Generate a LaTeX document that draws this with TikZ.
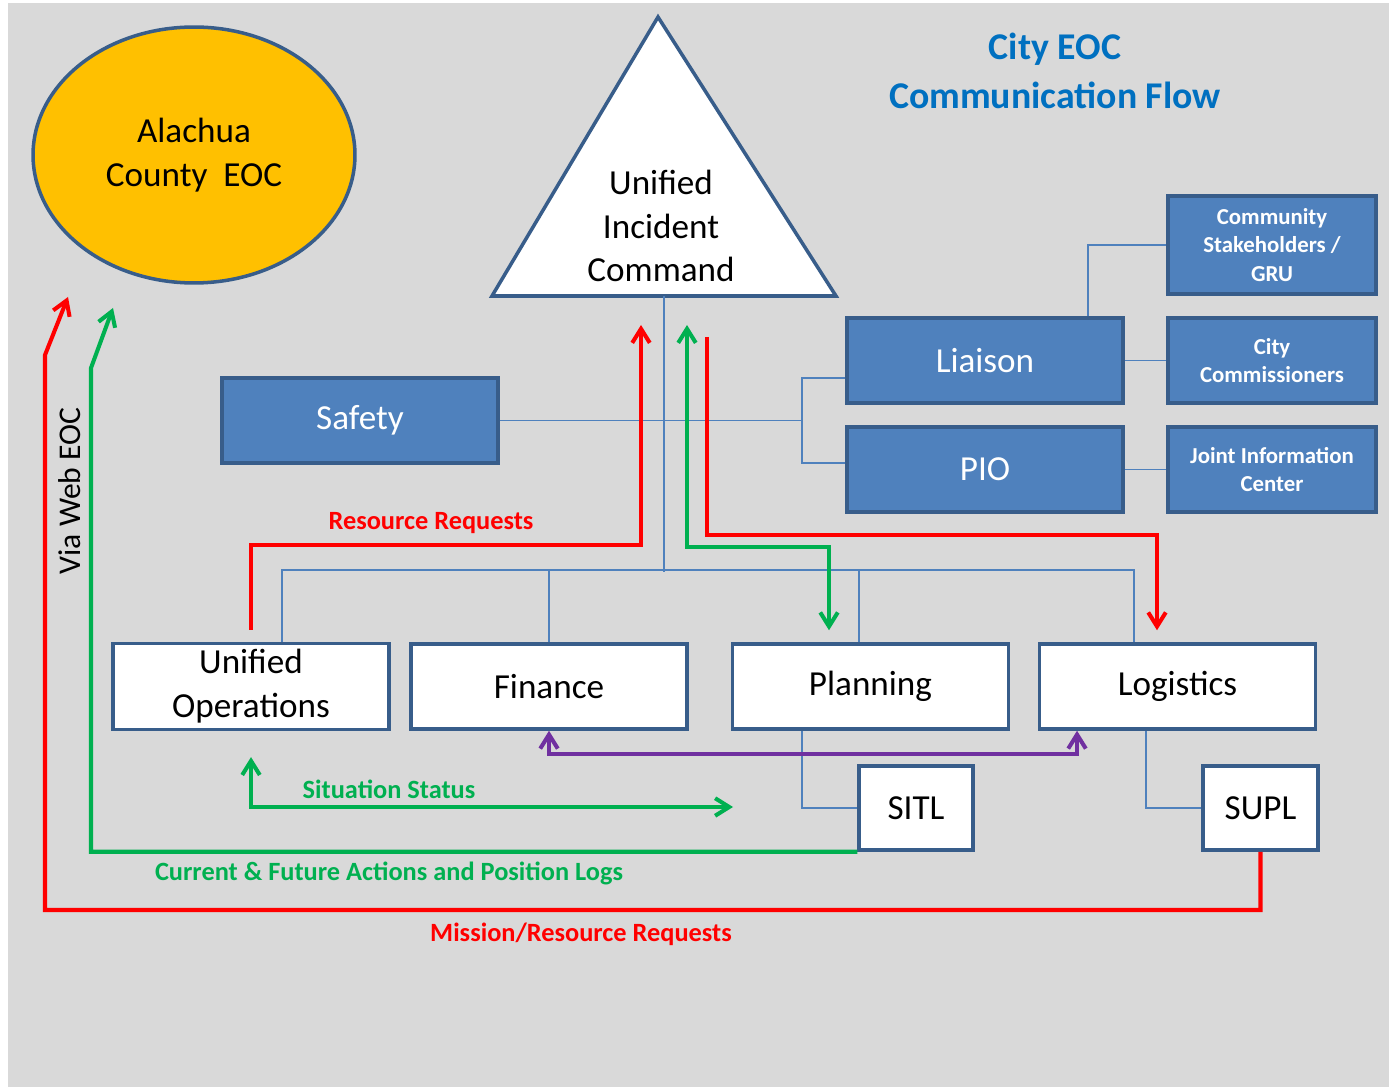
\documentclass[tikz,border=0pt]{standalone}
\usepackage{fontspec}
\setmainfont{Carlito}
\usetikzlibrary{arrows.meta,shapes.geometric}

\definecolor{bggray}{HTML}{D9D9D9}
\definecolor{boxblue}{HTML}{4F81BD}
\definecolor{boxedge}{HTML}{385D8A}
\definecolor{eocyellow}{HTML}{FFC000}
\definecolor{titleblue}{HTML}{0070C0}
\definecolor{flowgreen}{HTML}{00B050}
\definecolor{flowred}{HTML}{FF0000}
\definecolor{flowpurple}{HTML}{7030A0}

\begin{document}
\begin{tikzpicture}[x=0.02cm,y=-0.02cm]
\tikzstyle{every node} = [font = \fontsize{20}{25}\selectfont]
\tikzstyle{bluebox} = [draw=boxedge,line width=2pt,fill=boxblue,text=white,minimum width=5.52cm,minimum height=1.7cm]
\tikzstyle{smallbox} = [draw=boxedge,line width=2pt,fill=boxblue,text=white,minimum width=4.16cm,minimum height=1.7cm,align=center,font=\fontsize{13}{16}\selectfont\bfseries]
\tikzstyle{whitebox} = [draw=boxedge,line width=2pt,fill=white,minimum width=5.52cm,minimum height=1.7cm,align=center]
\tikzstyle{orgline} = [boxblue,line width=0.75pt]
\tikzstyle{flow} = [line width=2.3pt,arrows={-Straight Barb[length=8pt,width=10pt]}]
\tikzstyle{twoway} = [arrows={Straight Barb[length=8pt,width=10pt]-Straight Barb[length=8pt,width=10pt]}]
\tikzstyle{flowlabel} = [font=\fontsize{15}{18}\selectfont\bfseries]

\useasboundingbox (0,0) rectangle (1389,1087);
\fill[bggray] (8,3) rectangle (1389,1087);

% titolo
\node[text=titleblue,align=center,font=\fontsize{21.5}{27.5}\selectfont\bfseries] (title) at (1055,71) {City EOC\\Communication Flow};

% contea
\node[ellipse,draw=boxedge,line width=2pt,fill=eocyellow,minimum width=6.44cm,minimum height=5.12cm,align=center] (county) at (194,155) {Alachua\\County~ EOC};

% comando unificato
\filldraw[draw=boxedge,line width=2pt,fill=white,line join=miter] (658,17) -- (836,296) -- (492,296) -- cycle;
\coordinate (uic) at (664,296);
\node[align=center] (uictext) at (661,226) {Unified\\Incident\\Command};

% staff
\node[bluebox] (safety) at (360,420.5) {Safety};
\node[bluebox] (liaison) at (985,360.5) {Liaison};
\node[bluebox] (pio) at (985,469.5) {PIO};
\node[smallbox,minimum height=1.96cm] (comm) at (1272,245) {Community\\Stakeholders /\\GRU};
\node[smallbox] (citycom) at (1272,360.5) {City\\Commissioners};
\node[smallbox] (jic) at (1272,469.5) {Joint Information\\Center};

% sezioni
\node[whitebox] (uo) at (251,686.5) {Unified\\Operations};
\node[whitebox] (fin) at (549,686.5) {Finance};
\node[whitebox] (plan) at (870.5,686.5) {Planning};
\node[whitebox] (log) at (1177.5,686.5) {Logistics};
\node[whitebox,minimum width=2.28cm,minimum height=1.68cm] (sitl) at (916,808) {SITL};
\node[whitebox,minimum width=2.3cm,minimum height=1.68cm] (supl) at (1260.5,808) {SUPL};

% linee organigramma
\draw[orgline] (uic) -- (664,572);
\draw[orgline] ([xshift=.62cm]uo.north) -- ++(0,-72) -| ([xshift=-.87cm]log.north);
\draw[orgline] (fin.north) -- ++(0,-72);
\draw[orgline] ([xshift=-.23cm]plan.north) -- ++(0,-72);
\draw[orgline] (safety.east) -- (802,420.5);
\draw[orgline] ([yshift=-.35cm]liaison.west) -| (802,420.5) |- ([yshift=.13cm]pio.west);
\draw[orgline] ([xshift=2.06cm]liaison.north) |- (comm.west);
\draw[orgline] (liaison.east) -- (citycom.west);
\draw[orgline] (pio.east) -- (jic.west);
\draw[orgline] ([xshift=-1.37cm]plan.south) |- (sitl.west);
\draw[orgline] ([xshift=-.63cm]log.south) |- (supl.west);

% punte libere
\coordinate (rrtip) at (641,325);
\coordinate (gtop) at (687,325);
\coordinate (rtop) at (707,337);
\coordinate (sstip) at (733,807);
\coordinate (eocg) at (113,308);
\coordinate (eocr) at (68,297);

% flussi
\draw[flow,flowred] ([yshift=.24cm]uo.north) -- ++(0,-85) -| (rrtip);
\draw[flow,flowgreen,twoway] (gtop) -- ++(0,222) -| ([xshift=-.83cm,yshift=.24cm]plan.north);
\draw[flow,flowred] (rtop) -- ++(0,198) -| ([xshift=-.41cm,yshift=.24cm]log.north);
\draw[flow,flowpurple,twoway] (fin.south) -- ++(0,23) -| ([xshift=-2.01cm]log.south);
\draw[flow,flowgreen,twoway] ([yshift=-.52cm]uo.south) |- (sstip);
\draw[flow,flowgreen] (sitl.south west) -| (91,368) -- (eocg);
\draw[flow,flowred] (supl.south) |- (45,910) -- (45,355) -- (eocr);

% etichette
\node[flowlabel,text=flowred] (lblrr) at (431,523) {Resource Requests};
\node[flowlabel,text=flowgreen] (lblss) at (389,789) {Situation Status};
\node[flowlabel,text=flowgreen] (lblcf) at (389,873) {Current \& Future Actions and Position Logs};
\node[flowlabel,text=flowred] (lblmr) at (581,934) {Mission/Resource Requests};
\node[rotate=90,font=\fontsize{18}{22}\selectfont] (via) at (70,491) {Via Web EOC};

\end{tikzpicture}
\end{document}
